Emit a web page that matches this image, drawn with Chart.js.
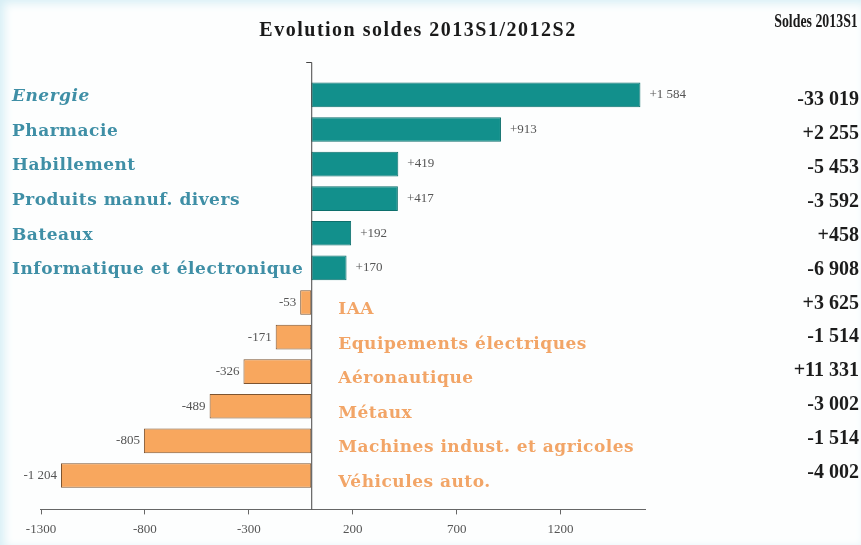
<!DOCTYPE html>
<html>
<head>
<meta charset="utf-8">
<script src="https://cdn.jsdelivr.net/npm/chart.js@4/dist/chart.umd.min.js"></script>
<style>
  html, body { margin: 0; padding: 0; background: #f7fcfd; }
  #wrap { position: relative; width: 861px; height: 545px; box-shadow: inset 4px 3px 10px #d6eef5; background: #fdfefe; }
  canvas { position: absolute; left: 0; top: 0; }
</style>
</head>
<body>
<div id="wrap"><canvas id="c" width="861" height="545"></canvas></div>
<script>
// Secteurs (de haut en bas)
const categories = [
  'Energie', 'Pharmacie', 'Habillement', 'Produits manuf. divers', 'Bateaux',
  'Informatique et électronique', 'IAA', 'Equipements électriques', 'Aéronautique',
  'Métaux', 'Machines indust. et agricoles', 'Véhicules auto.'
];
// Evolution des soldes 2013S1 / 2012S2 (M€)
const evolution = [1584, 913, 419, 417, 192, 170, -53, -171, -326, -489, -805, -1204];
// Soldes 2013S1 (M€)
const soldes2013S1 = [-33019, 2255, -5453, -3592, 458, -6908, 3625, -1514, 11331, -3002, -1514, -4002];
// Graduations de l'axe horizontal
const xTicks = [-1300, -800, -300, 200, 700, 1200];

const TEAL = '#12908c', TEAL_EDGE = '#0d6f6c';
const ORANGE = '#f8a75e', ORANGE_EDGE = '#7d5430';
const TEAL_TEXT = '#3f8fa6', ORANGE_TEXT = '#f2a567';

function fmt(v, signed) {
  const s = Math.abs(v).toString().replace(/\B(?=(\d{3})+(?!\d))/g, ' ');
  return (v < 0 ? '-' : (signed ? '+' : '')) + s;
}

// texte condensé horizontalement
function squeezed(ctx, text, x, y, sx) {
  ctx.save();
  ctx.translate(x, y);
  ctx.scale(sx, 1);
  ctx.fillText(text, 0, 0);
  ctx.restore();
}

const annotate = {
  id: 'annotate',
  afterDatasetsDraw(chart) {
    const { ctx, chartArea, scales: { x, y } } = chart;
    const x0 = x.getPixelForValue(0);
    const step = y.getPixelForValue(1) - y.getPixelForValue(0);
    ctx.save();
    // axe vertical au zéro
    ctx.strokeStyle = '#444';
    ctx.lineWidth = 1;
    ctx.beginPath();
    ctx.moveTo(x0 - 5, chartArea.top + 0.5);
    ctx.lineTo(x0 + 0.5, chartArea.top + 0.5);
    ctx.lineTo(x0 + 0.5, chartArea.bottom);
    ctx.stroke();

    // titres
    ctx.fillStyle = '#1a1a1a';
    ctx.textBaseline = 'middle';
    ctx.textAlign = 'center';
    ctx.font = 'bold 20px "Liberation Serif"';
    ctx.letterSpacing = '1.5px';
    ctx.fillText('Evolution soldes 2013S1/2012S2', 418, 31);
    ctx.letterSpacing = '0px';
    ctx.font = 'bold 18px "Liberation Serif"';
    squeezed(ctx, 'Soldes 2013S1', 816, 22, 0.77);

    categories.forEach((name, i) => {
      const v = evolution[i];
      const yc = y.getPixelForValue(i);
      const xe = x.getPixelForValue(v);
      // libellés de secteur
      ctx.textAlign = 'left';
      ctx.font = (i === 0 ? 'italic ' : '') + 'bold 17px "DejaVu Serif"';
      ctx.letterSpacing = '0.5px';
      ctx.fillStyle = v >= 0 ? TEAL_TEXT : ORANGE_TEXT;
      if (v >= 0) ctx.fillText(name, 12, yc + 2);
      else ctx.fillText(name, x0 + 27, yc + 7);
      ctx.letterSpacing = '0px';
      // valeur de la barre
      ctx.font = '13px "Liberation Serif"';
      ctx.fillStyle = '#555';
      if (v >= 0) { ctx.textAlign = 'left'; ctx.fillText(fmt(v, true), xe + 9, yc); }
      else { ctx.textAlign = 'right'; ctx.fillText(fmt(v, true), xe - 4, yc); }
      // colonne des soldes
      ctx.textAlign = 'right';
      ctx.font = 'bold 20px "Liberation Serif"';
      ctx.fillStyle = '#1c1c1c';
      ctx.fillText(fmt(soldes2013S1[i], true), 859, y.getPixelForValue(0) + 5 + i * step * 0.98);
    });
    ctx.restore();
  }
};

new Chart(document.getElementById('c'), {
  type: 'bar',
  data: {
    datasets: [{
      data: evolution.map((v, i) => ({ x: v, y: i })),
      backgroundColor: evolution.map(v => v >= 0 ? TEAL : ORANGE),
      borderColor: evolution.map(v => v >= 0 ? TEAL_EDGE : ORANGE_EDGE),
      borderWidth: 1,
      borderSkipped: false,
      barPercentage: 0.75,
      categoryPercentage: 1
    }]
  },
  options: {
    indexAxis: 'y',
    responsive: false,
    animation: false,
    layout: { padding: { left: 40, right: 216, top: 62, bottom: 1 } },
    plugins: { legend: { display: false }, tooltip: { enabled: false }, title: { display: false } },
    scales: {
      y: {
        type: 'linear',
        reverse: true,
        offset: false,
        min: -0.95,
        max: 11.98,
        display: false
      },
      x: {
        type: 'linear',
        min: -1305,
        max: 1606,
        afterBuildTicks(scale) { scale.ticks = xTicks.map(v => ({ value: v })); },
        border: { display: true, color: '#666', width: 1 },
        grid: { drawOnChartArea: false, drawTicks: true, tickLength: 5, color: '#666' },
        ticks: {
          padding: 7,
          color: '#555',
          font: { family: '"Liberation Serif"', size: 13 },
          callback: v => String(v),
          maxRotation: 0
        }
      }
    }
  },
  plugins: [annotate]
});
</script>
</body>
</html>
